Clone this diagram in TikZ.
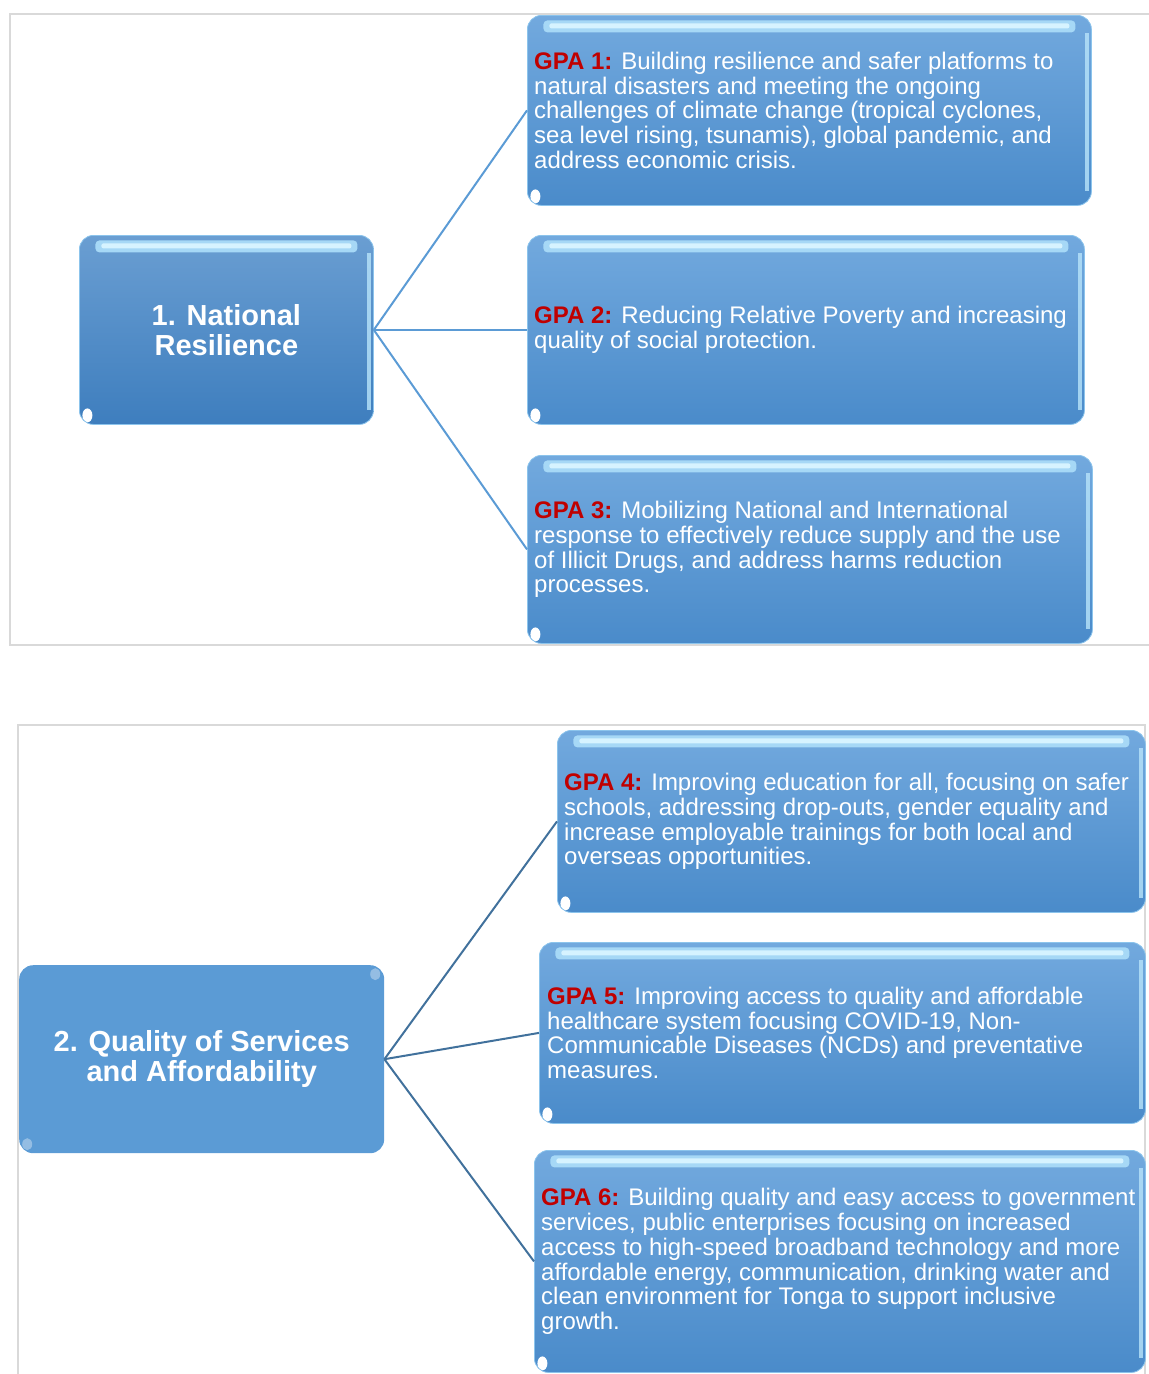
\documentclass[tikz,border=0pt]{standalone}
\usepackage{fontspec}
\setmainfont{Liberation Sans}
\definecolor{boxtop}{HTML}{72A9DE}
\definecolor{boxbot}{HTML}{4A8BCA}
\definecolor{headtop}{HTML}{6A9ED2}
\definecolor{headbot}{HTML}{3E7EBE}
\definecolor{flatblue}{HTML}{5B9BD5}
\definecolor{boxedge}{HTML}{8CC4EC}
\definecolor{glossA}{HTML}{A6D8F6}
\definecolor{glossB}{HTML}{D6F3FF}
\definecolor{edgeglow}{HTML}{B8E4FA}
\definecolor{framegray}{HTML}{D9D9D9}
\definecolor{linkA}{HTML}{5B9BD5}
\definecolor{linkB}{HTML}{41719C}
\definecolor{gpared}{HTML}{C00000}
\tikzset{
  gloss/.style={rounded corners=14pt, draw=boxedge, line width=0.8pt,
    path picture={
      \path[fill=glossA, rounded corners=4pt]
        ([xshift=16pt,yshift=-5pt]path picture bounding box.north west) rectangle
        ([xshift=-16pt,yshift=-17pt]path picture bounding box.north east);
      \path[fill=glossB, rounded corners=2pt]
        ([xshift=22pt,yshift=-8pt]path picture bounding box.north west) rectangle
        ([xshift=-22pt,yshift=-13pt]path picture bounding box.north east);
      \path[fill=edgeglow, opacity=.8, sharp corners]
        ([xshift=-6pt,yshift=-18pt]path picture bounding box.north east) rectangle
        ([xshift=-2pt,yshift=14pt]path picture bounding box.south east);
      \path[fill=white]
        ([xshift=8pt,yshift=9pt]path picture bounding box.south west) ellipse [x radius=5pt, y radius=7pt];
    }},
  gpabox/.style={gloss, top color=boxtop, bottom color=boxbot, anchor=north west, inner sep=0pt},
  headbox/.style={gloss, top color=headtop, bottom color=headbot, anchor=north west, inner sep=0pt},
  flatbox/.style={rounded corners=14pt, fill=flatblue, draw=none, anchor=north west, inner sep=0pt,
    path picture={
      \path[fill=white, opacity=.35]
        ([xshift=-9pt,yshift=-9pt]path picture bounding box.north east) ellipse [x radius=5pt, y radius=6pt];
      \path[fill=white, opacity=.35]
        ([xshift=8pt,yshift=9pt]path picture bounding box.south west) ellipse [x radius=5pt, y radius=6pt];
    }},
  gpatext/.style={anchor=west, align=left, text=white, inner sep=0pt,
    font=\fontsize{24}{24.8}\selectfont},
  headtext/.style={align=center, text=white, inner sep=0pt,
    font=\fontsize{29}{30.5}\selectfont\bfseries},
  frame/.style={draw=framegray, line width=1.6pt},
  linkone/.style={draw=linkA, line width=2pt},
  linktwo/.style={draw=linkB, line width=2pt},
}
\newcommand{\gpa}[1]{{\bfseries\color{gpared}GPA #1:}}
\begin{document}
\begin{tikzpicture}[x=1pt, y=-1pt]
  \useasboundingbox (0,0) rectangle (1149,1374);

  % panel frames
  \draw[frame] (1160,14) -- (10,14) -- (10,645) -- (1160,645);
  \draw[frame] (18,1390) -- (18,725) -- (1145,725) -- (1145,1390);

  % first group
  \node[headbox, minimum width=294pt, minimum height=189pt] (nr) at (79,235) {};
  \node[headtext] at (nr.center) {1. National\\Resilience};

  \node[gpabox, minimum width=564pt, minimum height=190pt] (g1) at (527,15) {};
  \node[gpatext] at ([xshift=7pt]g1.west) {\gpa{1} Building resilience and safer platforms to\\natural disasters and meeting the ongoing\\challenges of climate change (tropical cyclones,\\sea level rising, tsunamis), global pandemic, and\\address economic crisis.};

  \node[gpabox, minimum width=557pt, minimum height=189pt] (g2) at (527,235) {};
  \node[gpatext] at ([xshift=7pt]g2.west) {\gpa{2} Reducing Relative Poverty and increasing\\quality of social protection.};

  \node[gpabox, minimum width=565pt, minimum height=188pt] (g3) at (527,455) {};
  \node[gpatext] at ([xshift=7pt]g3.west) {\gpa{3} Mobilizing National and International\\response to effectively reduce supply and the use\\of Illicit Drugs, and address harms reduction\\processes.};

  \draw[linkone] (nr.east) -- (g1.west);
  \draw[linkone] (nr.east) -- (g2.west);
  \draw[linkone] (nr.east) -- (g3.west);

  % second group
  \node[flatbox, minimum width=365pt, minimum height=188pt] (qs) at (19,965) {};
  \node[headtext] at (qs.center) {2. Quality of Services\\and Affordability};

  \node[gpabox, minimum width=588pt, minimum height=182pt] (g4) at (557,730) {};
  \node[gpatext] at ([xshift=7pt]g4.west) {\gpa{4} Improving education for all, focusing on safer\\schools, addressing drop-outs, gender equality and\\increase employable trainings for both local and\\overseas opportunities.};

  \node[gpabox, minimum width=606pt, minimum height=181pt] (g5) at (539,942) {};
  \node[gpatext] at ([xshift=8pt]g5.west) {\gpa{5} Improving access to quality and affordable\\healthcare system focusing COVID-19, Non-\\Communicable Diseases (NCDs) and preventative\\measures.};

  \node[gpabox, minimum width=611pt, minimum height=222pt] (g6) at (534,1150) {};
  \node[gpatext] at ([xshift=7pt]g6.west) {\gpa{6} Building quality and easy access to government\\services, public enterprises focusing on increased\\access to high-speed broadband technology and more\\affordable energy, communication, drinking water and\\clean environment for Tonga to support inclusive\\growth.};

  \draw[linktwo] (qs.east) -- (g4.west);
  \draw[linktwo] (qs.east) -- (g5.west);
  \draw[linktwo] (qs.east) -- (g6.west);
\end{tikzpicture}
\end{document}
